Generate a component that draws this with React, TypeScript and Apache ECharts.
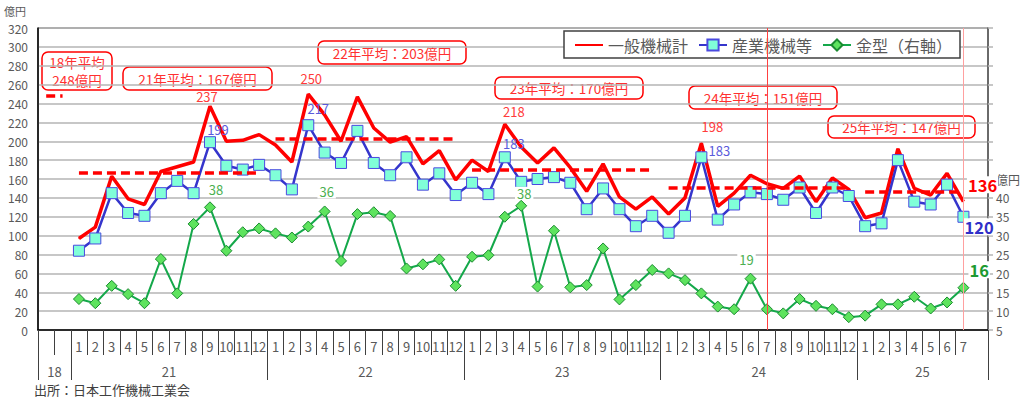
import React, { useEffect, useRef } from 'react';
import * as echarts from 'echarts';

const FONT = "'Noto Sans CJK JP', 'Noto Sans', sans-serif";

// ---- categories ----
const years = ['21', '22', '23', '24', '25'];
const monthsInYear = [12, 12, 12, 12, 7];
const categories: string[] = [
  '18a', '18b',
  ...years.flatMap((y, i) => Array.from({ length: monthsInYear[i] }, (_, m) => `${y}-${m + 1}`)),
  'end',
];
const yearLabels = ['18', '21', '22', '23', '24', '25'];
const yearSlots = [2, 12, 12, 12, 12, 8];

// ---- series values (億円) ----
const machinery = [
  null, null,
  97, 109, 163, 139, 133, 168, 173, 178, 237, 200, 201, 207,
  196, 178, 250, 228, 200, 247, 214, 199, 205, 176, 190, 159,
  180, 168, 218, 194, 177, 193, 172, 147, 176, 141, 128, 141,
  123, 140, 198, 131, 145, 164, 155, 150, 163, 136, 161, 149,
  119, 124, 192, 150, 143, 166, 136,
  null,
];
const industrial = [
  null, null,
  84, 97, 145, 124, 121, 145, 158, 145, 199, 174, 170, 175,
  164, 149, 217, 188, 177, 211, 177, 164, 183, 154, 166, 143,
  156, 144, 183, 157, 160, 162, 156, 128, 150, 128, 110, 121,
  103, 121, 183, 117, 133, 146, 144, 138, 151, 124, 151, 142,
  110, 113, 180, 136, 133, 154, 120,
  null,
];
const dies = [
  null, null,
  13.2, 12.1, 16.7, 14.5, 12.1, 23.8, 14.7, 33.1, 37.5, 26.0, 30.9, 31.9,
  30.6, 29.5, 32.4, 36.4, 23.3, 35.7, 36.2, 35.2, 21.3, 22.4, 23.7, 16.7,
  24.4, 24.8, 35.0, 37.9, 16.5, 31.3, 16.3, 16.9, 26.6, 13.1, 16.9, 20.9,
  20.0, 18.2, 14.7, 11.2, 10.5, 18.6, 10.5, 9.4, 13.2, 11.4, 10.5, 8.4,
  8.8, 11.8, 11.8, 13.8, 10.7, 12.3, 16.2,
  null,
];

// ---- yearly averages of 一般機械計 ----
const avgYears = ['18', '21', '22', '23', '24', '25'];
const avgValues = [248, 167, 203, 170, 151, 147];
const avgSpans: [string, string][] = [
  ['18a', '18b'], ['21-1', '21-12'], ['22-1', '22-12'], ['23-1', '23-12'], ['24-1', '24-12'], ['25-1', '25-7'],
];

// ---- annotated points ----
const machineryLabels: Record<string, [number, number]> = {
  '21-9': [-3, -3], '22-3': [3, -9], '23-3': [9, -6], '24-3': [11, -10],
};
const industrialLabels: Record<string, [number, number]> = {
  '21-9': [8, 0], '22-3': [10, -4], '23-3': [9, -1], '24-3': [18, 6],
};
const diesLabels: Record<string, [number, number]> = {
  '21-9': [6, -5], '22-4': [2, -7], '23-4': [3, 0], '24-6': [-4, -7],
};
const lastKey = '25-7';
const markerLines = [
  { key: '24-7', color: '#ff4040' },
  { key: '25-7', color: '#ffa0a0' },
];

const annotationBoxes = [
  [42, 52, 70, 38],
  [123, 67, 149, 23],
  [318, 41, 148, 23],
  [495, 77, 148, 22],
  [689, 86, 148, 23],
  [828, 116, 147, 22],
];

function buildData(
  values: (number | null)[],
  labels: Record<string, [number, number]>,
  color: string,
  last: { color: string; offset: [number, number] },
  withBg: boolean
) {
  return values.map((v, i) => {
    const key = categories[i];
    if (labels[key]) {
      return {
        value: v,
        label: {
          show: true, position: 'top', distance: 0, offset: labels[key],
          formatter: () => String(Math.round(v as number)),
          color, fontSize: 13, fontFamily: FONT,
          backgroundColor: withBg ? '#fff' : 'transparent', padding: withBg ? [0, 2] : 0,
        },
      };
    }
    if (key === lastKey) {
      return {
        value: v,
        label: {
          show: true, position: 'right', distance: 0, offset: last.offset,
          formatter: () => String(Math.round(v as number)),
          color: last.color, fontSize: 16.5, fontWeight: 'bold', fontFamily: FONT,
          backgroundColor: '#fff', padding: [0, 1], lineHeight: 17,
        },
      };
    }
    return v;
  });
}

export default function App() {
  const ref = useRef<HTMLDivElement>(null);
  useEffect(() => {
    document.body.style.margin = '0';
    const chart = echarts.init(ref.current!, null, { renderer: 'svg' });

    const bounds: number[] = [0];
    yearSlots.forEach((n) => bounds.push(bounds[bounds.length - 1] + n));
    const yearMid = yearSlots.map((n, i) => bounds[i] + n / 2);

    const option: any = {
      animation: false,
      textStyle: { fontFamily: FONT },
      grid: { left: 38, right: 36, top: 28, bottom: 67, show: true, borderColor: '#404040', borderWidth: 1 },
      legend: {
        left: 564, top: 31,
        padding: [6, 8, 5, 10],
        itemGap: 10, itemWidth: 28, itemHeight: 14,
        borderColor: '#404040', borderWidth: 1.5, backgroundColor: '#fff',
        textStyle: { fontSize: 16, color: '#595959', fontFamily: FONT },
        data: [
          { name: '一般機械計', itemStyle: { opacity: 0 } },
          { name: '産業機械等' },
          { name: '金型（右軸）' },
        ],
      },
      xAxis: [
        {
          type: 'category', data: categories, boundaryGap: true, position: 'bottom',
          axisLine: { show: true, lineStyle: { color: '#000', width: 1.5 } },
          axisTick: { show: true, length: 25, interval: (i: number) => i !== categories.length - 1, lineStyle: { color: '#404040' } },
          axisLabel: {
            interval: 0, margin: 10, fontSize: 13, color: '#595959', fontFamily: FONT,
            formatter: (v: string) => (v.includes('-') ? v.split('-')[1] : ''),
          },
          splitLine: { show: false },
        },
        {
          type: 'value', min: 0, max: categories.length, position: 'bottom',
          axisLine: { show: false },
          splitLine: { show: false },
          axisTick: { show: true, length: 50, customValues: bounds, lineStyle: { color: '#404040' } },
          axisLabel: {
            customValues: yearMid, margin: 35, fontSize: 13, color: '#595959', fontFamily: FONT,
            formatter: (v: number) => yearLabels[yearMid.indexOf(v)] ?? '',
          },
        },
      ],
      yAxis: [
        {
          type: 'value', min: 0, max: 320, interval: 20, position: 'left',
          name: '億円', nameLocation: 'end', nameGap: 12,
          nameTextStyle: { color: '#595959', fontSize: 11, align: 'right', padding: [0, 12, 0, 0], fontFamily: FONT },
          axisLine: { show: true, lineStyle: { color: '#000', width: 1.5 } },
          axisTick: { show: false },
          axisLabel: { color: '#595959', fontSize: 12, margin: 10, fontFamily: FONT },
          splitLine: { show: true, lineStyle: { color: '#b4b4b4', width: 1.5 } },
        },
        {
          type: 'value', min: 5, max: 85, interval: 5, position: 'right',
          axisLine: { show: true, lineStyle: { color: '#595959', width: 1.5 } },
          axisTick: { show: true, length: 5, lineStyle: { color: '#b4b4b4', width: 1.5 } },
          axisLabel: {
            color: '#595959', fontSize: 12, margin: 8, fontFamily: FONT,
            formatter: (v: number) => (v <= 40 ? String(v) : v === 45 ? '億円' : ''),
          },
          splitLine: { show: false },
        },
      ],
      series: [
        {
          name: '一般機械計', type: 'line', xAxisIndex: 0, yAxisIndex: 0,
          data: buildData(machinery, machineryLabels, '#ff3b3b', { color: '#ff0000', offset: [3, -17] }, false),
          symbol: 'circle', symbolSize: 1, showSymbol: true,
          itemStyle: { color: '#ff0000' },
          lineStyle: { color: '#ff0000', width: 3.5 },
          z: 3,
          markLine: {
            silent: true, symbol: ['none', 'none'],
            label: { show: false },
            lineStyle: { color: '#ff0000', width: 3.5, type: [9, 5] },
            data: avgSpans.map((s, i) => [
              { coord: [s[0], avgValues[i]] },
              { coord: [s[1], avgValues[i]] },
            ]),
          },
        },
        {
          name: '産業機械等', type: 'line', xAxisIndex: 0, yAxisIndex: 0,
          data: buildData(industrial, industrialLabels, '#5b5bdb', { color: '#2f2fc8', offset: [-6, 10] }, false),
          symbol: 'rect', symbolSize: 11, showSymbol: true,
          itemStyle: { color: '#80ffd8', borderColor: '#4a4ae0', borderWidth: 1 },
          lineStyle: { color: '#3535cc', width: 2.5 },
          z: 4,
        },
        {
          name: '金型（右軸）', type: 'line', xAxisIndex: 0, yAxisIndex: 1,
          data: buildData(dies, diesLabels, '#4caf50', { color: '#1e9a32', offset: [-1, -18] }, true),
          symbol: 'diamond', symbolSize: 11, showSymbol: true,
          itemStyle: { color: '#5ee35e', borderColor: '#1a8a30', borderWidth: 1 },
          lineStyle: { color: '#14a84a', width: 2 },
          z: 4,
        },
        ...markerLines.map((m) => ({
          name: 'marker-' + m.key, type: 'line', xAxisIndex: 0, yAxisIndex: 0, data: [],
          silent: true, z: 2,
          markLine: {
            silent: true, symbol: ['none', 'none'], label: { show: false },
            lineStyle: { color: m.color, width: 1, type: 'solid' },
            data: [{ xAxis: m.key }],
          },
        })),
      ],
      graphic: [
        ...annotationBoxes.map((b, i) => {
          const [x, y, w, h] = b;
          const text = avgYears[i] === '18'
            ? `${avgYears[i]}年平均\n${avgValues[i]}億円`
            : `${avgYears[i]}年平均：${avgValues[i]}億円`;
          return {
            type: 'group', x, y, z: 10,
            children: [
              { type: 'rect', shape: { x: 0, y: 0, width: w, height: h, r: 6 }, style: { fill: '#fff', stroke: '#ff0000', lineWidth: 1.5 } },
              {
                type: 'text', x: w / 2, y: h / 2,
                style: {
                  text, fill: '#ff3030', fontSize: 13.5, fontFamily: FONT,
                  align: 'center', verticalAlign: 'middle', lineHeight: 18,
                },
              },
            ],
          };
        }),
        {
          type: 'text', left: 34, top: 382,
          style: { text: '出所：日本工作機械工業会', fill: '#404040', fontSize: 13, lineHeight: 14, fontFamily: FONT },
        },
      ],
    };
    chart.setOption(option);
    return () => chart.dispose();
  }, []);
  return <div ref={ref} style={{ width: 1024, height: 397 }} />;
}
